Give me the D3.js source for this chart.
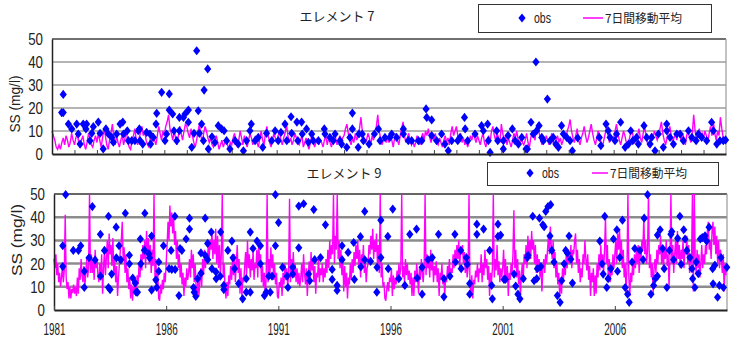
<!DOCTYPE html>
<html>
<head>
<meta charset="utf-8">
<script src="https://cdn.jsdelivr.net/npm/d3@7"></script>
<style>
  body { margin: 0; background: #fff; }
</style>
</head>
<body>
<div id="chart"></div>
<script>
// axis ticks and labels
const yTicks = [0, 10, 20, 30, 40, 50];
const yearLabels = [1981, 1986, 1991, 1996, 2001, 2006];
const yearMinor = d3.range(1982, 2011);
const seriesNames = ['obs', '7日間移動平均'];
const panelTitles = ['エレメント 7', 'エレメント 9'];
const yTitle = 'SS (mg/l)';

// Element 7 observations: [decimal year, SS]
const obs7 = [
  [1981.43,18.0],[1981.50,18.0],[1981.50,25.9],[1981.73,13.0],[1981.88,10.9],[1982.10,13.0],[1982.17,8.7],
  [1982.25,4.3],[1982.39,13.0],[1982.51,10.9],[1982.54,13.0],[1982.69,5.8],[1982.77,9.0],[1982.84,11.9],
  [1983.06,13.9],[1983.14,9.0],[1983.28,2.2],[1983.40,10.9],[1983.51,8.7],[1983.66,7.2],[1983.73,5.1],
  [1983.88,8.7],[1984.03,13.0],[1984.15,13.9],[1984.18,8.7],[1984.35,10.1],[1984.40,5.8],[1984.55,5.8],
  [1984.69,5.8],[1984.84,10.1],[1984.89,10.9],[1984.92,5.8],[1985.04,4.3],[1985.21,9.4],[1985.36,8.7],
  [1985.39,4.3],[1985.51,7.2],[1985.63,13.0],[1985.66,17.7],[1985.88,26.8],[1986.03,5.8],[1986.10,8.7],
  [1986.22,26.1],[1986.22,19.1],[1986.37,17.4],[1986.43,10.1],[1986.55,5.8],[1986.67,15.9],[1986.67,10.1],
  [1986.85,15.9],[1986.92,17.4],[1987.07,19.1],[1987.07,13.8],[1987.22,2.9],[1987.32,9.0],[1987.44,44.9],
  [1987.51,18.8],[1987.56,9.0],[1987.66,13.0],[1987.77,27.8],[1987.93,37.0],[1987.74,5.8],[1987.96,2.2],
  [1988.12,7.5],[1988.25,5.0],[1988.40,12.3],[1988.55,10.9],[1988.66,10.1],[1988.77,5.8],[1988.92,2.2],
  [1989.15,5.8],[1989.29,4.3],[1989.52,1.4],[1989.66,5.8],[1989.81,10.1],[1989.87,13.0],[1990.04,5.8],
  [1990.18,7.2],[1990.38,2.9],[1990.55,9.0],[1990.78,5.8],[1990.93,10.1],[1991.07,5.8],[1991.19,9.4],
  [1991.37,13.0],[1991.45,5.8],[1991.64,16.2],[1991.67,9.0],[1991.90,13.9],[1991.94,5.8],[1992.11,13.9],
  [1992.14,8.7],[1992.33,10.9],[1992.41,5.1],[1992.56,8.7],[1992.63,5.8],[1992.86,5.8],[1993.12,10.9],
  [1993.15,8.7],[1993.37,7.2],[1993.52,5.8],[1993.60,8.7],[1993.82,5.8],[1993.89,4.3],[1994.12,2.9],
  [1994.26,7.2],[1994.37,17.8],[1994.37,10.9],[1994.63,2.9],[1994.66,8.7],[1994.81,8.7],[1994.86,5.8],
  [1995.11,4.3],[1995.35,8.7],[1995.53,10.9],[1995.60,5.8],[1995.82,7.2],[1996.04,7.2],[1996.12,8.7],
  [1996.34,7.2],[1996.64,10.9],[1996.64,8.7],[1996.86,5.8],[1997.01,5.8],[1997.31,5.8],[1997.46,5.8],
  [1997.65,19.6],[1997.68,15.9],[1997.90,14.8],[1997.90,8.0],[1998.12,5.8],[1998.34,8.7],[1998.49,4.3],
  [1998.64,1.4],[1998.79,5.8],[1999.06,5.8],[1999.16,7.2],[1999.36,15.9],[1999.39,10.9],[1999.50,5.8],
  [1999.83,8.7],[2000.12,12.3],[2000.20,10.1],[2000.39,13.0],[2000.42,5.8],[2000.50,0.7],[2000.79,10.1],
  [2000.84,5.8],[2001.09,5.8],[2001.09,2.2],[2001.30,8.0],[2001.49,10.9],[2001.61,5.8],[2001.76,4.3],
  [2001.91,7.2],[2002.10,2.2],[2002.16,2.2],[2002.32,13.8],[2002.42,8.7],[2002.54,40.0],[2002.57,10.1],
  [2002.68,12.3],[2002.80,7.2],[2002.87,5.8],[2003.05,23.9],[2003.17,5.8],[2003.31,7.2],[2003.43,4.3],
  [2003.54,2.9],[2003.68,12.3],[2003.76,8.7],[2003.91,7.2],[2004.06,5.8],[2004.16,1.4],[2004.40,7.0],
  [2005.36,7.2],[2005.43,3.6],[2005.66,13.0],[2005.76,10.1],[2005.84,7.2],[2006.06,5.8],[2006.13,8.7],
  [2006.31,13.8],[2006.51,2.9],[2006.66,4.3],[2006.76,10.1],[2006.85,5.8],[2007.02,7.2],[2007.10,4.3],
  [2007.35,12.3],[2007.47,7.2],[2007.62,4.3],[2007.69,7.2],[2007.84,1.4],[2007.99,8.7],[2008.21,2.9],
  [2008.36,13.0],[2008.36,10.1],[2008.51,7.2],[2008.66,4.3],[2008.81,8.7],[2008.96,8.7],[2009.10,5.8],
  [2009.33,10.1],[2009.48,7.2],[2009.67,5.8],[2009.77,8.7],[2009.92,7.2],[2010.14,5.8],[2010.36,13.8],
  [2010.44,10.1],[2010.59,4.3],[2010.73,5.8],[2010.88,5.8],[2010.98,6.1]
];

// Element 7 moving average, one row per year 1981..2010 (16 values per year)
const ma7 = [
  [10,8,6,3,2,4,2,5,7,4,8,6,3,5,9,6],
  [4,7,9,5,3,6,8,4,2,5,9,7,4,3,6,8],
  [5,9,6,3,7,11,8,4,2,6,9,13,7,4,8,5],
  [3,6,8,4,7,10,5,3,2,6,8,11,6,4,7,9],
  [12,8,10,6,4,3,7,5,9,6,4,8,12,9,6,10],
  [8,12,14,17,11,9,6,10,7,4,8,12,9,6,10,13],
  [12,9,7,11,8,5,3,6,10,13,8,5,9,12,10,7],
  [5,7,4,3,6,8,5,2,4,6,3,5,7,4,2,5],
  [4,7,9,5,3,6,10,7,4,8,5,3,6,9,7,4],
  [6,8,5,3,7,10,6,4,9,12,8,5,3,6,9,7],
  [5,8,10,6,4,7,9,13,8,5,7,4,6,9,7,5],
  [4,6,8,3,5,7,4,2,5,8,6,3,5,7,4,6],
  [5,3,6,8,4,7,5,3,6,9,7,4,6,8,5,7],
  [8,11,13,9,6,4,7,5,9,6,8,11,16,10,7,5],
  [6,9,7,4,8,6,10,12,17,10,7,4,6,8,5,7],
  [5,8,6,3,7,9,6,4,8,11,14,8,5,7,9,6],
  [4,6,3,5,8,6,4,7,9,6,10,8,11,7,5,8],
  [6,9,5,4,7,5,3,6,8,5,7,4,9,12,8,10],
  [12,8,6,9,5,7,4,6,3,5,8,6,9,7,5,8],
  [6,4,7,9,5,3,6,8,5,10,12,8,6,9,7,5],
  [13,9,6,8,4,7,5,3,6,9,7,10,6,4,8,5],
  [4,6,9,5,3,7,10,8,6,12,13,9,6,4,7,5],
  [8,6,4,7,9,5,3,6,8,5,7,4,6,9,7,10],
  [12,15,10,7,5,8,11,6,4,7,9,12,8,5,7,10],
  [13,9,6,4,7,10,8,5,3,6,9,12,8,5,7,6],
  [7,10,13,9,6,4,7,10,8,5,3,6,9,11,7,5],
  [6,8,11,7,5,9,12,8,5,3,6,9,7,10,8,6],
  [8,11,14,9,6,4,7,10,12,8,5,7,9,6,10,8],
  [6,9,7,4,8,10,7,5,9,17,10,6,8,11,7,9],
  [7,10,8,5,9,12,8,14,9,6,10,8,16,11,7,5]
];

// Element 9 observations: [decimal year, SS]
const obs9 = [
  [1981.52,49.7],[1981.39,27.7],[1981.39,18.7],[1981.86,25.7],[1982.09,25.7],[1982.19,27.7],[1982.35,16.7],
  [1982.35,9.7],[1982.56,22.5],[1982.71,44.6],[1982.83,21.6],[1983.07,14.6],[1983.07,32.6],[1983.25,25.7],
  [1983.43,40.4],[1983.43,9.7],[1983.50,8.8],[1983.57,15.5],[1983.77,35.7],[1983.78,22.5],[1983.90,27.7],
  [1983.98,21.6],[1984.18,41.7],[1984.36,23.6],[1984.36,19.9],[1984.51,13.8],[1984.62,11.6],[1984.66,7.7],
  [1984.72,7.7],[1984.85,30.6],[1984.87,19.9],[1985.05,41.7],[1985.03,25.8],[1985.23,24.2],[1985.26,22.5],
  [1985.35,31.9],[1985.35,8.6],[1985.54,13.0],[1985.58,9.7],[1985.67,20.7],[1985.67,16.7],[1985.88,27.7],
  [1986.13,17.8],[1986.25,17.5],[1986.40,17.5],[1986.39,40.4],[1986.22,25.7],[1986.62,26.5],[1986.70,25.7],
  [1986.57,6.2],[1986.89,30.6],[1987.04,39.6],[1987.04,34.9],[1987.22,9.7],[1987.32,5.9],[1987.25,7.7],
  [1987.40,13.5],[1987.55,15.8],[1987.55,24.6],[1987.74,39.6],[1987.74,23.6],[1987.85,21.7],[1987.85,28.7],
  [1988.01,33.6],[1988.04,17.8],[1988.22,16.4],[1988.23,13.5],[1988.43,33.6],[1988.41,14.6],[1988.57,10.6],
  [1988.57,8.8],[1988.75,25.7],[1988.93,29.7],[1988.98,22.5],[1989.05,17.8],[1989.23,11.4],[1989.41,4.8],
  [1989.57,13.5],[1989.57,7.7],[1989.75,7.7],[1989.75,33.6],[1989.87,26.5],[1990.05,29.7],[1990.20,27.7],
  [1990.20,19.9],[1990.38,6.2],[1990.46,7.7],[1990.57,14.6],[1990.64,7.7],[1990.72,14.6],[1990.87,49.7],
  [1990.87,27.7],[1991.01,37.7],[1991.19,18.4],[1991.39,14.6],[1991.43,9.7],[1991.64,18.4],[1991.64,15.5],
  [1991.91,44.8],[1992.13,45.8],[1991.91,26.8],[1992.35,15.5],[1992.40,12.6],[1992.58,43.3],[1992.62,21.7],
  [1992.88,22.6],[1993.10,36.7],[1993.40,17.5],[1993.40,13.2],[1993.62,10.6],[1993.62,8.4],[1993.84,27.7],
  [1993.84,21.7],[1994.11,24.8],[1994.36,29.1],[1994.39,13.2],[1994.66,31.6],[1994.68,18.6],[1994.85,42.5],
  [1994.85,21.7],[1995.11,21.0],[1995.40,18.4],[1995.39,7.7],[1995.57,38.7],[1995.57,22.6],[1995.88,31.7],
  [1995.90,17.8],[1996.10,43.5],[1996.37,13.5],[1996.64,10.6],[1996.86,32.6],[1997.16,34.9],[1997.19,13.8],
  [1997.41,18.4],[1997.41,6.8],[1997.67,21.7],[1997.86,22.6],[1998.14,32.6],[1998.38,5.7],[1998.38,13.5],
  [1998.65,14.6],[1998.87,32.6],[1998.90,20.7],[1999.13,25.7],[1999.15,17.8],[1999.38,22.6],[1999.42,19.7],
  [1999.53,11.4],[1999.53,6.8],[1999.85,37.0],[1999.85,32.6],[2000.15,34.9],[2000.42,25.7],[2000.51,10.6],
  [2000.54,4.8],[2000.79,37.0],[2000.79,31.7],[2000.91,32.3],[2001.06,13.2],[2001.12,13.2],[2001.51,15.5],
  [2001.58,10.3],[2001.68,6.8],[2001.77,4.8],[2001.92,13.5],[2002.10,22.6],[2002.13,23.6],[2002.34,40.4],
  [2002.40,12.6],[2002.52,13.5],[2002.55,17.8],[2002.70,18.7],[2002.64,39.6],[2002.79,36.7],[2002.85,35.9],
  [2002.92,42.5],[2003.02,44.6],[2003.14,45.4],[2003.11,31.9],[2003.19,25.7],[2003.29,20.7],[2003.44,6.2],
  [2003.56,3.3],[2003.63,12.6],[2003.74,19.9],[2003.81,25.7],[2003.89,24.5],[2003.96,31.9],[2004.04,21.9],
  [2004.11,11.6],[2005.33,29.7],[2005.43,19.9],[2005.48,15.5],[2005.55,40.4],[2005.64,9.7],[2005.70,13.5],
  [2005.82,17.8],[2005.94,30.6],[2006.09,34.6],[2006.12,16.7],[2006.22,22.6],[2006.34,38.7],[2006.46,9.7],
  [2006.57,6.8],[2006.64,3.3],[2006.77,20.7],[2006.89,26.5],[2007.12,25.7],[2007.26,21.7],[2007.31,39.6],
  [2007.46,49.7],[2007.61,6.8],[2007.73,10.6],[2007.80,13.5],[2007.90,14.6],[2007.90,32.3],[2008.02,34.6],
  [2008.13,26.5],[2008.20,17.8],[2008.32,9.7],[2008.43,25.7],[2008.50,32.6],[2008.54,33.8],[2008.62,21.7],
  [2008.80,30.9],[2008.90,40.4],[2008.96,19.7],[2009.07,34.6],[2009.13,30.6],[2009.21,25.7],[2009.35,22.6],
  [2009.44,17.8],[2009.47,13.5],[2009.57,9.7],[2009.63,20.7],[2009.72,15.7],[2009.81,30.6],[2009.90,31.2],
  [2010.02,32.0],[2010.09,29.7],[2010.20,35.7],[2010.36,17.8],[2010.38,11.3],[2010.46,19.3],[2010.58,5.5],
  [2010.66,10.6],[2010.73,22.6],[2010.84,9.7],[2010.99,18.4]
];

// Element 9 moving average, one row per year 1981..2010 (24 values per year)
const ma9 = [
  [22,18,24,15,20,12,16,10,14,19,12,17,41,14,9,12,5,10,5,9,8,11,7,10],
  [6,14,7,18,13,22,15,12,19,10,16,22,14,18,50,16,24,16,21,13,26,18,22,15],
  [12,20,14,24,7,18,26,15,22,30,18,33,24,28,19,31,16,22,12,19,6,14,20,26],
  [30,38,22,27,16,24,12,18,9,14,5,11,4,10,8,13,9,15,11,20,14,24,17,28],
  [22,30,18,34,25,31,20,28,16,26,19,50,14,22,10,16,5,4,11,7,13,9,16,12],
  [20,28,38,30,45,36,42,33,40,28,34,22,30,18,24,14,20,11,16,6,14,10,18,13],
  [16,22,14,26,18,24,12,20,10,5,14,6,12,18,10,22,15,26,18,24,20,28,22,30],
  [26,34,22,30,24,35,20,32,18,28,15,24,50,14,20,10,5,12,6,15,11,19,13,22],
  [15,24,12,20,28,16,22,7,18,6,14,12,19,25,15,30,18,24,14,22,17,26,13,20],
  [18,26,14,30,20,24,12,19,10,16,5,14,50,12,22,15,27,18,24,13,20,11,16,6],
  [5,12,10,14,6,16,11,20,13,18,10,15,48,12,22,16,25,14,20,12,18,11,16,10],
  [14,20,12,24,16,11,18,6,15,21,13,25,17,22,12,19,7,16,14,23,12,18,15,20],
  [12,18,14,22,16,26,18,30,22,28,24,50,20,32,26,50,22,30,18,26,15,22,8,19],
  [10,16,5,14,11,20,13,22,16,25,19,28,22,30,18,26,14,24,20,28,16,22,12,18],
  [20,28,24,32,26,35,22,30,25,33,20,28,16,50,14,20,10,12,5,4,9,12,8,14],
  [12,18,6,15,9,14,11,17,13,20,15,18,50,14,19,12,22,15,20,13,17,11,16,6],
  [14,6,17,12,20,15,7,18,13,22,16,12,19,50,15,24,18,21,14,26,17,23,12,19],
  [15,21,12,18,6,16,13,20,11,15,6,14,12,19,15,22,13,18,16,24,18,26,20,28],
  [22,30,18,26,24,28,20,25,16,22,14,18,50,12,7,15,5,13,11,17,14,20,12,18],
  [16,24,12,20,15,26,18,22,13,19,6,16,12,18,50,14,22,17,28,15,21,12,18,14],
  [18,26,14,22,12,19,6,16,13,20,15,24,43,18,26,14,22,11,17,6,15,20,13,24],
  [20,28,18,32,24,30,22,34,26,30,20,28,16,24,18,22,14,20,8,18,22,16,24,20],
  [26,32,24,36,28,22,30,18,25,14,20,11,16,6,14,7,18,13,20,15,24,18,26,20],
  [22,28,18,26,24,30,33,20,26,16,22,12,18,14,24,20,30,22,17,24,13,19,6,16],
  [12,18,6,15,7,20,14,24,17,28,19,24,16,26,40,20,28,14,22,12,19,15,24,18],
  [24,30,20,33,26,35,22,30,18,26,14,20,7,18,50,14,6,16,12,20,15,24,18,26],
  [20,28,16,24,22,30,26,40,24,30,20,26,50,18,24,14,20,7,18,22,16,26,20,28],
  [24,32,20,28,18,26,22,30,19,24,10,22,50,20,28,16,24,30,20,34,22,28,18,26],
  [22,30,18,26,24,32,20,28,16,24,20,50,8,50,22,16,26,18,24,14,20,28,18,24],
  [20,28,24,34,38,26,30,22,34,38,28,36,24,32,20,30,18,26,22,16,24,8,20,15]
];

const W = 731, H = 340;
const numFont = '"Liberation Sans", Arial, sans-serif';
const jpFont = '"Noto Sans CJK JP", sans-serif';
const diamond = 'M0,-4.6L3.6,0L0,4.6L-3.6,0Z';

const svg = d3.select('#chart').append('svg')
  .attr('width', W)
  .attr('height', H);

const panels = [
  {
    title: panelTitles[0], obs: obs7, ma: ma7,
    left: 52, right: 726, top: 39, bottom: 154,
    grid: '#b4b4b4', gridW: 2, frame: '#707070',
    titleX: 337, titleY: 21,
    legend: { x: 478, y: 4, w: 233, h: 28, cy: 18, dx: 522, tx: 534, lx1: 583, lx2: 603, lt: 605 },
    yLabelX: 20, yLabelY: 104, yLabelLen: 57,
    labels: false
  },
  {
    title: panelTitles[1], obs: obs9, ma: ma9,
    left: 54, right: 727, top: 194, bottom: 310,
    grid: '#8c8c8c', gridW: 2.5, frame: '#666',
    titleX: 344, titleY: 178,
    legend: { x: 487, y: 162, w: 231, h: 23, cy: 173, dx: 530, tx: 542, lx1: 592, lx2: 608, lt: 610 },
    yLabelX: 22, yLabelY: 240, yLabelLen: 72,
    labels: true
  }
];

panels.forEach(p => {
  const x = d3.scaleLinear().domain([1981, 2011]).range([p.left, p.right]);
  const y = d3.scaleLinear().domain([0, 50]).range([p.bottom, p.top]);
  const g = svg.append('g');

  // horizontal gridlines
  g.selectAll('line.grid')
    .data(yTicks.filter(d => d > 0 && d < 50))
    .join('line')
    .attr('class', 'grid')
    .attr('x1', p.left).attr('x2', p.right)
    .attr('y1', d => y(d)).attr('y2', d => y(d))
    .attr('stroke', p.grid)
    .attr('stroke-width', p.gridW);

  // top and right frame
  g.append('line')
    .attr('x1', p.left).attr('x2', p.right)
    .attr('y1', y(50)).attr('y2', y(50))
    .attr('stroke', p.frame).attr('stroke-width', 2.2);
  g.append('line')
    .attr('x1', p.right).attr('x2', p.right)
    .attr('y1', y(50)).attr('y2', y(0))
    .attr('stroke', '#999').attr('stroke-width', 1.2);

  // moving average line
  const pts = p.ma.flatMap((row, i) => row.map((v, j) => [1981 + i + j / row.length, v]));
  g.append('path')
    .datum(pts)
    .attr('d', d3.line().x(d => x(d[0])).y(d => y(Math.min(d[1], 50))))
    .attr('fill', 'none')
    .attr('stroke', '#ff00ff')
    .attr('stroke-width', 1.4);

  // observations
  g.selectAll('path.obs')
    .data(p.obs)
    .join('path')
    .attr('class', 'obs')
    .attr('d', diamond)
    .attr('transform', d => `translate(${x(d[0])},${y(d[1])})`)
    .attr('fill', '#0000ff');

  // y axis
  const ya = g.append('g')
    .attr('transform', `translate(${p.left},0)`)
    .call(d3.axisLeft(y).tickValues(yTicks).tickSize(0).tickPadding(9).tickSizeOuter(0));
  ya.select('.domain').attr('stroke', '#222').attr('stroke-width', 1.5);
  ya.selectAll('text')
    .attr('font-family', numFont)
    .attr('font-size', 17)
    .attr('fill', '#222')
    .attr('textLength', d => String(d).length * 7.4)
    .attr('lengthAdjust', 'spacingAndGlyphs');

  // x axis
  const xa = g.append('g')
    .attr('transform', `translate(0,${p.bottom})`)
    .call(d3.axisBottom(x)
      .tickValues(p.labels ? yearLabels : yearMinor)
      .tickSize(-4).tickPadding(13).tickSizeOuter(0)
      .tickFormat(p.labels ? d3.format('d') : () => ''));
  xa.select('.domain').attr('stroke', '#222').attr('stroke-width', 2);
  xa.selectAll('.tick line').attr('stroke', '#444');
  xa.selectAll('text')
    .attr('font-family', numFont)
    .attr('font-size', 17)
    .attr('fill', '#222')
    .attr('textLength', 22)
    .attr('lengthAdjust', 'spacingAndGlyphs');

  // y title
  svg.append('text')
    .attr('transform', `translate(${p.yLabelX},${p.yLabelY}) rotate(-90)`)
    .attr('text-anchor', 'middle')
    .attr('font-family', numFont)
    .attr('font-size', 14)
    .attr('fill', '#222')
    .attr('textLength', p.yLabelLen)
    .attr('lengthAdjust', 'spacingAndGlyphs')
    .text(yTitle);

  // panel title
  svg.append('text')
    .attr('x', p.titleX).attr('y', p.titleY)
    .attr('text-anchor', 'middle')
    .attr('font-family', jpFont)
    .attr('font-size', 13)
    .attr('fill', '#222')
    .text(p.title);

  // legend
  const L = p.legend;
  svg.append('rect')
    .attr('x', L.x + 0.5).attr('y', L.y + 0.5)
    .attr('width', L.w).attr('height', L.h)
    .attr('fill', '#fff').attr('stroke', '#333').attr('stroke-width', 1);
  svg.append('path')
    .attr('d', diamond)
    .attr('transform', `translate(${L.dx},${L.cy})`)
    .attr('fill', '#0000ff');
  svg.append('text')
    .attr('x', L.tx).attr('y', L.cy + 5)
    .attr('font-family', numFont)
    .attr('font-size', 14)
    .attr('fill', '#222')
    .attr('textLength', 17)
    .attr('lengthAdjust', 'spacingAndGlyphs')
    .text(seriesNames[0]);
  svg.append('line')
    .attr('x1', L.lx1).attr('x2', L.lx2)
    .attr('y1', L.cy).attr('y2', L.cy)
    .attr('stroke', '#ff00ff').attr('stroke-width', 1.5);
  svg.append('text')
    .attr('x', L.lt).attr('y', L.cy + 5)
    .attr('font-family', jpFont)
    .attr('font-size', 12)
    .attr('fill', '#222')
    .attr('textLength', 77)
    .attr('lengthAdjust', 'spacingAndGlyphs')
    .text(seriesNames[1]);
});
</script>
</body>
</html>
